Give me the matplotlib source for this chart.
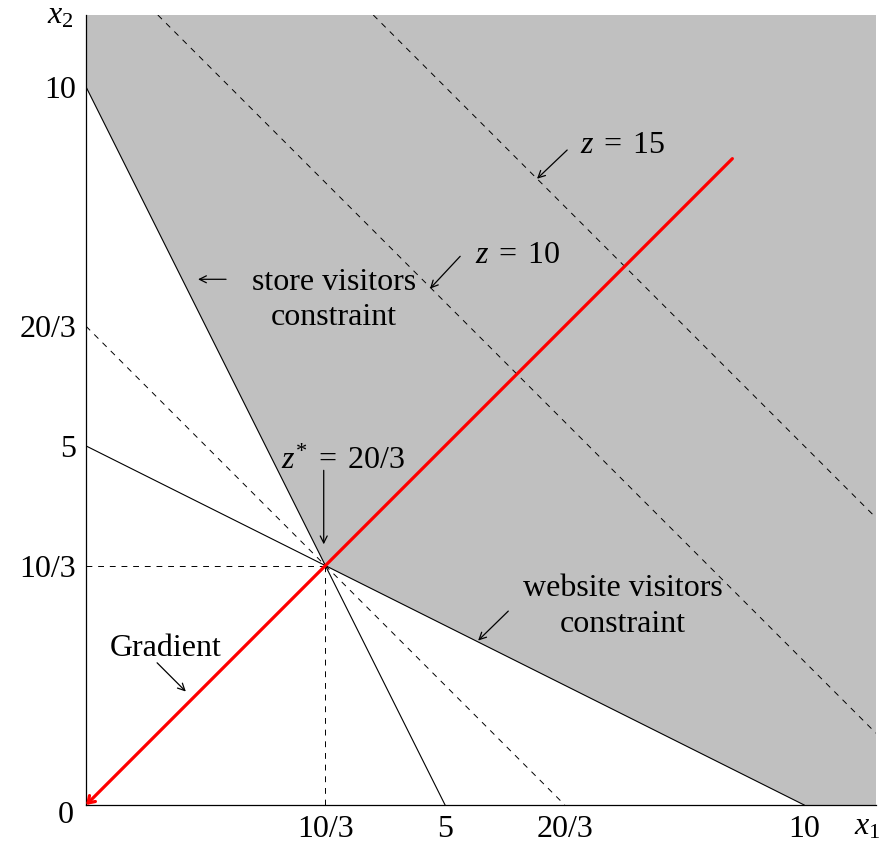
import matplotlib
matplotlib.use("Agg")
import matplotlib.pyplot as plt
import numpy as np

# ---- data ----
x_max, y_max = 11, 11
store_int = (5, 10)        # 2 x1 + x2 = 10  (x-intercept, y-intercept)
web_int = (10, 5)          # x1 + 2 x2 = 10
opt = (10 / 3, 10 / 3)     # optimum point
z_levels = [20 / 3, 12, 15]  # objective level lines x1 + x2 = z
grad_end = (9, 9)
xtick_vals = [10 / 3, 5, 20 / 3, 10]
xtick_labels = ["10/3", "5", "20/3", "10"]
ytick_vals = [10 / 3, 5, 20 / 3, 10]
ytick_labels = ["10/3", "5", "20/3", "10"]

plt.rcParams['font.family'] = ['Liberation Serif', 'DejaVu Serif']
plt.rcParams['mathtext.fontset'] = 'custom'
plt.rcParams['mathtext.rm'] = 'Liberation Serif'
plt.rcParams['mathtext.it'] = 'Liberation Serif:italic'

FS = 23
fig = plt.figure(figsize=(8.9, 8.48), dpi=100)
ax = fig.add_axes([86 / 890, 43 / 848, (876 - 86) / 890, (833 - 43) / 848])
ax.set_xlim(0, x_max)
ax.set_ylim(0, y_max)

# feasible region
poly_x = [0, 0, opt[0], web_int[0], x_max, x_max]
poly_y = [y_max, store_int[1], opt[1], 0, 0, y_max]
ax.fill(poly_x, poly_y, color='#c0c0c0', lw=0, zorder=0)

# constraint lines
ax.plot([0, store_int[0]], [store_int[1], 0], color='black', lw=0.8, zorder=2)
ax.plot([0, web_int[0]], [web_int[1], 0], color='black', lw=0.8, zorder=2)

# objective level lines
dash = (0, (6, 6))
for z in z_levels:
    xs = np.array([max(0, z - y_max), min(x_max, z)])
    ax.plot(xs, z - xs, color='black', lw=0.7, linestyle=dash, zorder=2)

# helper dashed lines to optimum
ax.plot([0, opt[0]], [opt[1], opt[1]], color='black', lw=0.7, linestyle=dash, zorder=2)
ax.plot([opt[0], opt[0]], [0, opt[1]], color='black', lw=0.7, linestyle=dash, zorder=2)

# gradient
ax.annotate('', xy=(0, 0), xytext=grad_end,
            arrowprops=dict(arrowstyle='->,head_length=0.45,head_width=0.3',
                            color='red', lw=2.3, shrinkA=0, shrinkB=0),
            zorder=4, annotation_clip=False)

# spines / ticks
for s in ['top', 'right']:
    ax.spines[s].set_visible(False)
for s in ['left', 'bottom']:
    ax.spines[s].set_linewidth(0.9)
    ax.spines[s].set_zorder(3)
ax.set_xticks(xtick_vals)
ax.set_xticklabels(xtick_labels, fontsize=FS)
ax.set_yticks(ytick_vals)
ax.set_yticklabels(ytick_labels, fontsize=FS)
ax.tick_params(length=0, pad=7)
ax.text(-0.28, -0.14, '0', fontsize=FS, ha='center', va='center')
ax.text(10.88, -0.3, r'$x_1$', fontsize=FS, ha='center', va='center')
ax.text(-0.36, 10.98, r'$x_2$', fontsize=FS, ha='center', va='center')

arrow_kw = dict(arrowstyle='->,head_length=0.5,head_width=0.25', color='black',
                lw=0.9, shrinkA=0, shrinkB=0)

# annotations
ax.annotate('', xy=(1.56, 7.32), xytext=(1.95, 7.32), arrowprops=arrow_kw)
ax.text(3.45, 7.03, 'store visitors\nconstraint', fontsize=FS, ha='center',
        va='center', linespacing=1.3)

ax.text(6.02, 7.65, r'$z\;=\;10$', fontsize=FS, ha='center', va='center')
ax.annotate('', xy=(4.79, 7.19), xytext=(5.21, 7.64), arrowprops=arrow_kw)

ax.text(7.47, 9.18, r'$z\;=\;15$', fontsize=FS, ha='center', va='center')
ax.annotate('', xy=(6.28, 8.72), xytext=(6.70, 9.12), arrowprops=arrow_kw)

ax.text(3.57, 4.79, r'$z^{*}\;=\;20/3$', fontsize=FS, ha='center', va='center')
ax.annotate('', xy=(3.31, 3.63), xytext=(3.31, 4.66), arrowprops=arrow_kw)

ax.text(7.47, 2.76, 'website visitors\nconstraint', fontsize=FS, ha='center',
        va='center', linespacing=1.3)
ax.annotate('', xy=(5.46, 2.29), xytext=(5.88, 2.70), arrowprops=arrow_kw)

ax.text(1.11, 2.18, 'Gradient', fontsize=FS, ha='center', va='center')
ax.annotate('', xy=(1.39, 1.58), xytext=(0.99, 1.98), arrowprops=arrow_kw)

fig.savefig('out.png', dpi=100)
